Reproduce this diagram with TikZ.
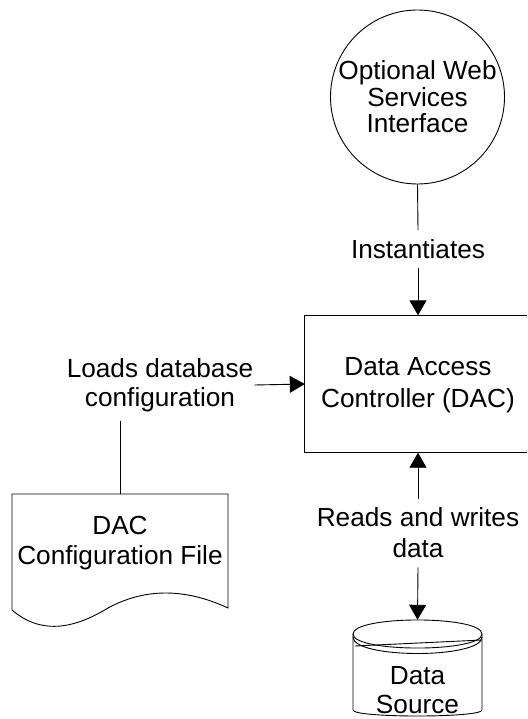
\documentclass[tikz,border=0pt]{standalone}
\usepackage{fontspec}
\setmainfont{Liberation Sans}
\usetikzlibrary{arrows.meta}
\begin{document}
\begin{tikzpicture}[x=1pt,y=-1pt,
  every node/.style={align=center},
  txt/.style={font=\fontsize{26.2}{30}\selectfont},
  ln/.style={line width=0.9pt, draw=black},
  arr/.style={ln, -{Triangle[length=15pt,width=17pt]}},
  lbl/.style={txt, inner xsep=1pt, inner ysep=9pt},
  shp/.style={line width=0.9pt, draw=black}
]
\useasboundingbox (0,0) rectangle (527,719);
\fill[white] (0,0) rectangle (527,719);

% Optional web services interface
\node[shp, circle, minimum size=174pt, inner sep=0pt,
      font=\fontsize{26.2}{26.5}\selectfont] (web) at (417.5,97)
  {Optional Web\\Services\\Interface};

% DAC box (runs off the right edge)
\node[rectangle, minimum width=222pt, minimum height=137pt, inner sep=0pt] (dac) at (416,384) {};
\draw[shp] (dac.north east) -- (dac.north west) -- (dac.south west) -- (dac.south east);
\node[font=\fontsize{26.2}{32}\selectfont] (dacText) at (418,385) {Data Access\\Controller (DAC)};

% labels
\node[lbl] (lblI) at (418,249) {Instantiates};
\node[lbl, font=\fontsize{26.2}{29}\selectfont] (lblL) at (160,385) {Loads database\\configuration};
\node[lbl, font=\fontsize{26.2}{31}\selectfont] (lblR) at (418,533) {Reads and writes\\data};

% DAC configuration file (document shape)
\node[minimum width=216pt, minimum height=116pt, inner sep=0pt] (doc) at (120,552) {};
\draw[shp] (12,494) -- (228,494) -- (228,608)
  .. controls (185,588) and (145,588) .. (108,608)
  .. controls (72,630) and (40,634) .. (12,610) -- cycle;
\node[txt] (docText) at (120,543.5) {DAC\\Configuration File};

% Data source (cylinder)
\node[minimum width=129pt, minimum height=96pt, inner sep=0pt] (ds) at (417.5,668) {};
\draw[shp] (353,634) .. controls (353,615.3) and (482,615.3) .. (482,634)
  .. controls (482,652.7) and (353,652.7) .. cycle;
\draw[shp] (353,637) .. controls (353,659) and (482,659) .. (482,637);
\draw[shp] (355,646) -- (482,640);
\draw[shp] (353,634) -- (353,710) .. controls (353,718) and (482,718) .. (482,710) -- (482,634);
\node[txt, font=\fontsize{26.2}{29}\selectfont] (dsText) at (417.5,690) {Data\\Source};

% connectors
\draw[ln] (web.south) -- (lblI.north);
\draw[arr] (lblI.south) -- (lblI.south |- dac.north);
\draw[arr] (lblL.east) -- (dac.west);
\draw[ln] (lblL.south -| doc.north) -- (doc.north);
\draw[arr] (lblR.north) -- (lblR.north |- dac.south);
\draw[arr] (lblR.south) -- (ds.north);
\end{tikzpicture}
\end{document}
